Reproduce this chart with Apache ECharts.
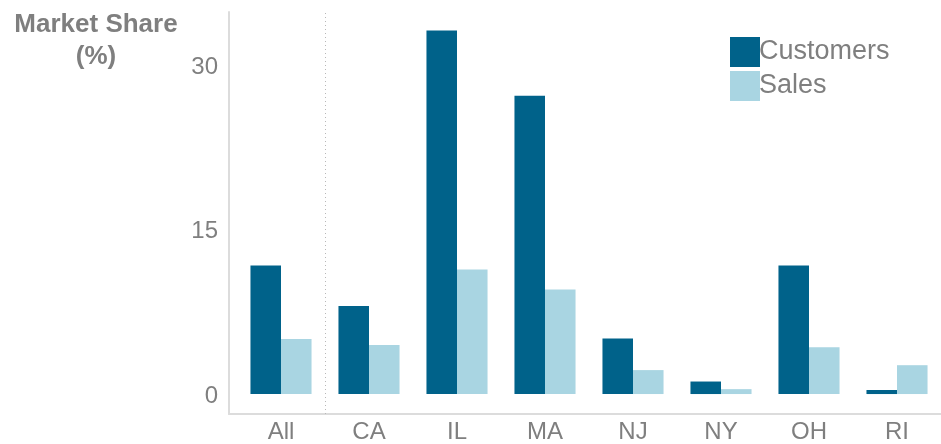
<!DOCTYPE html>
<html>
<head>
<meta charset="utf-8">
<script src="https://cdn.jsdelivr.net/npm/echarts@6/dist/echarts.min.js"></script>
<style>
html,body{margin:0;padding:0;background:#fff;}
#chart{width:941px;height:444px;}
</style>
</head>
<body>
<div id="chart"></div>
<script>
const categories = ['All', 'CA', 'IL', 'MA', 'NJ', 'NY', 'OH', 'RI'];
const customers = [11.8, 8.1, 33.4, 27.4, 5.1, 1.15, 11.8, 0.37];
const sales = [5.05, 4.5, 11.45, 9.6, 2.2, 0.45, 4.3, 2.65];
const yTickLabels = [0, 15, 30];
const dividerAfterIndex = 0; // dotted divider between "All" and the states
const yTitle = 'Market Share\n(%)';

const FONT = '"Liberation Sans", Arial, sans-serif';
const GRAY = '#7f7f7f';

// grid geometry
const G0 = { left: 237, top: 12, width: 705, height: 402 };
const G1 = { left: 229, top: 12, width: 712, height: 402 };
const band = G0.width / categories.length;
const x1min = -0.5 - (G0.left - G1.left) / band;
const x1max = x1min + G1.width / band;

const chart = echarts.init(document.getElementById('chart'));
chart.setOption({
  animation: false,
  textStyle: { fontFamily: FONT },
  title: {
    text: yTitle,
    left: 91, top: 4, textAlign: 'center',
    textStyle: { fontFamily: FONT, fontSize: 26, fontWeight: 'bold', color: GRAY, lineHeight: 32, align: 'center' }
  },
  legend: {
    orient: 'vertical', left: 725, top: 32, itemGap: 4,
    itemWidth: 30, itemHeight: 30, icon: 'rect',
    textStyle: { fontFamily: FONT, fontSize: 27, color: GRAY, padding: [0, 0, 0, -6] },
    data: ['Customers', 'Sales']
  },
  grid: [G0, G1],
  xAxis: [
    {
      type: 'category', gridIndex: 0, data: categories,
      axisLine: { show: false }, axisTick: { show: false },
      axisLabel: { fontFamily: FONT, fontSize: 24, color: GRAY, margin: 8 },
      splitLine: { show: false }
    },
    {
      type: 'value', gridIndex: 1, min: x1min, max: x1max,
      axisLine: { show: true, onZero: false, lineStyle: { color: '#dcdcdc', width: 2 } },
      axisTick: { show: false }, axisLabel: { show: false }, splitLine: { show: false }
    }
  ],
  yAxis: [
    {
      type: 'value', gridIndex: 0, min: -1.65, max: 35.1,
      axisLine: { show: false }, axisTick: { show: false }, splitLine: { show: false },
      axisLabel: { show: false }
    },
    {
      type: 'value', gridIndex: 1, min: -1.65, max: 35.1,
      axisLine: { show: true, onZero: false, lineStyle: { color: '#dcdcdc', width: 2 } },
      axisTick: { show: false }, splitLine: { show: false },
      axisLabel: { customValues: yTickLabels, fontFamily: FONT, fontSize: 24, color: GRAY, margin: 11 }
    }
  ],
  series: [
    { name: 'Customers', type: 'bar', xAxisIndex: 0, yAxisIndex: 0, data: customers,
      itemStyle: { color: '#00628a' }, barGap: '0%', barCategoryGap: '30.6%' },
    { name: 'Sales', type: 'bar', xAxisIndex: 0, yAxisIndex: 0, data: sales,
      itemStyle: { color: '#a9d5e2' }, barGap: '0%', barCategoryGap: '30.6%' },
    { name: 'divider', type: 'line', xAxisIndex: 1, yAxisIndex: 1, data: [],
      silent: true,
      markLine: {
        silent: true, symbol: ['none', 'none'], label: { show: false },
        lineStyle: { color: '#b8b8b8', type: [1, 3], width: 1 },
        data: [{ xAxis: dividerAfterIndex + 0.5 }]
      }
    }
  ]
});
</script>
</body>
</html>
